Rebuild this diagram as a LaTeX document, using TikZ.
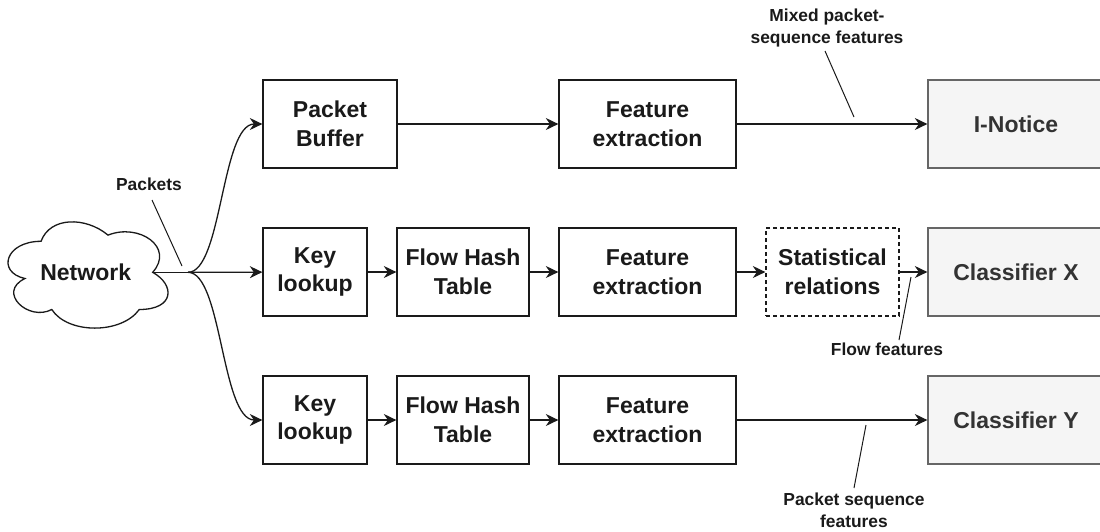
\documentclass[tikz,border=0pt]{standalone}
\usepackage{fontspec}
\setmainfont{Liberation Sans}
\usetikzlibrary{arrows.meta}
\definecolor{ink}{HTML}{1A1A1A}
\definecolor{greyfill}{HTML}{F5F5F5}
\definecolor{greyline}{HTML}{666666}
\definecolor{greytext}{HTML}{333333}
\begin{document}
\begin{tikzpicture}[x=1pt,y=-1pt,
  box/.style={draw=ink, line width=1.3pt, fill=white, minimum height=88pt, inner sep=0pt,
    align=center, font=\bfseries\fontsize{23}{28.5}\selectfont, text=ink},
  dashbox/.style={box, dash pattern=on 4pt off 3pt},
  outbox/.style={box, draw=greyline, fill=greyfill, text=greytext, minimum width=176pt},
  lbl/.style={inner sep=0pt, align=center, font=\bfseries\fontsize{17.4}{21.7}\selectfont, text=ink},
  flow/.style={draw=ink, line width=1.3pt, -{Stealth[length=12.5pt,width=12pt,inset=4pt]}},
  wire/.style={draw=ink, line width=1.3pt},
  leader/.style={draw=ink, line width=1pt},
]
\useasboundingbox (0,0) rectangle (1100,531);

% network cloud
\begin{scope}[shift={(-3.6,210.3)}, xscale=178.6, yscale=124]
  \draw[ink, line width=1.3pt, fill=white]
    (0.25,0.25) .. controls (0.05,0.25) and (0,0.5) .. (0.16,0.55)
    .. controls (0,0.66) and (0.18,0.9) .. (0.31,0.8)
    .. controls (0.4,1) and (0.7,1) .. (0.8,0.8)
    .. controls (1,0.8) and (1,0.6) .. (0.875,0.5)
    .. controls (1,0.3) and (0.8,0.1) .. (0.625,0.2)
    .. controls (0.5,0.05) and (0.3,0.05) .. (0.25,0.25) -- cycle;
\end{scope}
\node[inner sep=0pt, font=\bfseries\fontsize{23}{28.5}\selectfont, text=ink] (network) at (85.7,272.3) {Network};
\coordinate (netout) at (152.7,272.3);
\coordinate (split) at (188,272.3);

% top row
\node[box, minimum width=134pt] (pb)   at (330,124)   {Packet\\Buffer};
\node[box, minimum width=177pt] (fe1)  at (647.5,124) {Feature\\extraction};
\node[outbox] (inotice) at (1016,124) {I-Notice};

% middle row
\node[box, minimum width=104pt] (kl1)  at (315,272)   {Key\\lookup};
\node[box, minimum width=132pt] (fht1) at (463,272)   {Flow Hash\\Table};
\node[box, minimum width=177pt] (fe2)  at (647.5,272) {Feature\\extraction};
\node[dashbox, minimum width=133pt] (stat) at (832.5,272) {Statistical\\relations};
\node[outbox] (clx) at (1016,272) {Classifier X};

% bottom row
\node[box, minimum width=104pt] (kl2)  at (315,420)   {Key\\lookup};
\node[box, minimum width=132pt] (fht2) at (463,420)   {Flow Hash\\Table};
\node[box, minimum width=177pt] (fe3)  at (647.5,420) {Feature\\extraction};
\node[outbox] (cly) at (1016,420) {Classifier Y};

% packet fan-out
\draw[wire] (netout) -- (split);
\draw[flow] (split) -- (kl1);
\draw[flow] (split) .. controls +(34,0) and +(-41,0) .. (pb.west);
\draw[flow] (split) .. controls +(34,0) and +(-41,0) .. (kl2.west);

% pipelines
\draw[flow] (pb) -- (fe1);
\draw[flow] (fe1) -- (inotice);
\draw[flow] (kl1) -- (fht1);
\draw[flow] (fht1) -- (fe2);
\draw[flow] (fe2) -- (stat);
\draw[flow] (stat) -- (clx);
\draw[flow] (kl2) -- (fht2);
\draw[flow] (fht2) -- (fe3);
\draw[flow] (fe3) -- (cly);

% labels with leader lines
\node[lbl] (pktlbl) at (149,184) {Packets};
\coordinate (pktpt) at (182,266);
\draw[leader] (152,200) -- (pktpt);

\node[lbl] (mixlbl) at (827,28) {Mixed packet-\\sequence features};
\coordinate (mixpt) at (854,117);
\draw[leader] (825,51) -- (mixpt);

\node[lbl] (flowlbl) at (887,349) {Flow features};
\coordinate (flowpt) at (911,277);
\draw[leader] (899,340) -- (flowpt);

\node[lbl] (seqlbl) at (854,510) {Packet sequence\\features};
\coordinate (seqpt) at (866,425);
\draw[leader] (854,488) -- (seqpt);
\end{tikzpicture}
\end{document}
